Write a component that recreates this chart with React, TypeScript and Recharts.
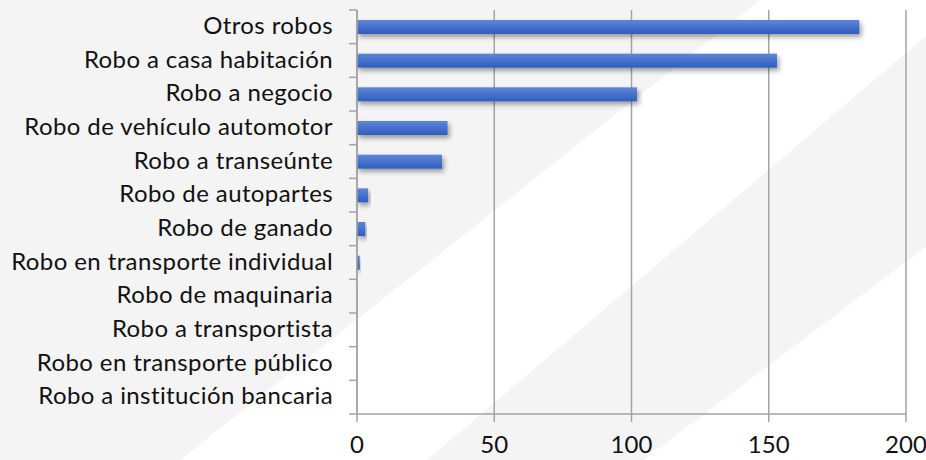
import React from "react";
import { BarChart, Bar, XAxis, YAxis, CartesianGrid } from "recharts";

const categories = [
  "Otros robos",
  "Robo a casa habitación",
  "Robo a negocio",
  "Robo de vehículo automotor",
  "Robo a transeúnte",
  "Robo de autopartes",
  "Robo de ganado",
  "Robo en transporte individual",
  "Robo de maquinaria",
  "Robo a transportista",
  "Robo en transporte público",
  "Robo a institución bancaria",
];

const values = [183, 153, 102, 33, 31, 4, 3, 1, 0, 0, 0, 0];

const xTicks = [0, 50, 100, 150, 200];

const data = categories.map((name, i) => ({ name, value: values[i] }));

const FONT = "Lato, 'Open Sans', sans-serif";
const AXIS = "#a3a3a3";

function CategoryTick(props: any) {
  const { x, y, payload, index, visibleTicksCount } = props;
  const half = payload?.offset ?? 16.8;
  const last = index === visibleTicksCount - 1;
  return (
    <g>
      <line x1={x + 16} x2={x + 24} y1={y - half} y2={y - half} stroke={AXIS} strokeWidth={1.5} />
      {last && (
        <line x1={x + 16} x2={x + 24} y1={y + half} y2={y + half} stroke={AXIS} strokeWidth={1.5} />
      )}
      <text
        x={x}
        y={y}
        dy="0.3em"
        textAnchor="end"
        fill="#111"
        fontSize={24}
        letterSpacing={0.4}
        fontFamily={FONT}
      >
        {payload.value}
      </text>
    </g>
  );
}

function ShadowBar(props: any) {
  const { x, y, width, height } = props;
  if (!width || width <= 0) return null;
  return (
    <rect x={x} y={y} width={width} height={height} fill="url(#barGrad)" filter="url(#barShadow)" />
  );
}

function Backdrop() {
  return (
    <svg width={926} height={460} style={{ position: "absolute", left: 0, top: 0 }}>
      <rect width={926} height={460} fill="#ffffff" />
      <polygon points="0,0 760,0 180,460 0,460" fill="#f4f4f4" />
      <polygon points="427,460 926,36 926,247 643,460" fill="#f4f4f4" />
    </svg>
  );
}

export default function App() {
  return (
    <div style={{ position: "absolute", left: 0, top: 0, width: 926, height: 460 }}>
      <Backdrop />
      <div style={{ position: "absolute", left: 0, top: 0 }}>
        <BarChart
          width={926}
          height={460}
          data={data}
          layout="vertical"
          margin={{ top: 10, right: 20, bottom: 0, left: 0 }}
          barSize={14}
        >
          <defs>
            <linearGradient id="barGrad" x1="0" y1="0" x2="0" y2="1">
              <stop offset="0%" stopColor="#5d86d8" />
              <stop offset="100%" stopColor="#2f5ec0" />
            </linearGradient>
            <filter id="barShadow" x="-10%" y="-50%" width="130%" height="250%">
              <feDropShadow dx="2" dy="3" stdDeviation="2.5" floodColor="#000" floodOpacity="0.38" />
            </filter>
          </defs>
          <CartesianGrid horizontal={false} stroke={AXIS} strokeWidth={1.5} />
          <XAxis
            type="number"
            domain={[0, 200]}
            ticks={xTicks}
            height={46}
            tickSize={8}
            tickMargin={14}
            stroke={AXIS}
            strokeWidth={1.5}
            tick={{ fill: "#111", fontSize: 24, fontFamily: FONT }}
          />
          <YAxis
            type="category"
            dataKey="name"
            width={357}
            tickSize={8}
            tickMargin={16}
            tickLine={false}
            stroke={AXIS}
            strokeWidth={1.5}
            interval={0}
            tick={<CategoryTick />}
          />
          <Bar dataKey="value" isAnimationActive={false} shape={<ShadowBar />} />
        </BarChart>
      </div>
    </div>
  );
}
